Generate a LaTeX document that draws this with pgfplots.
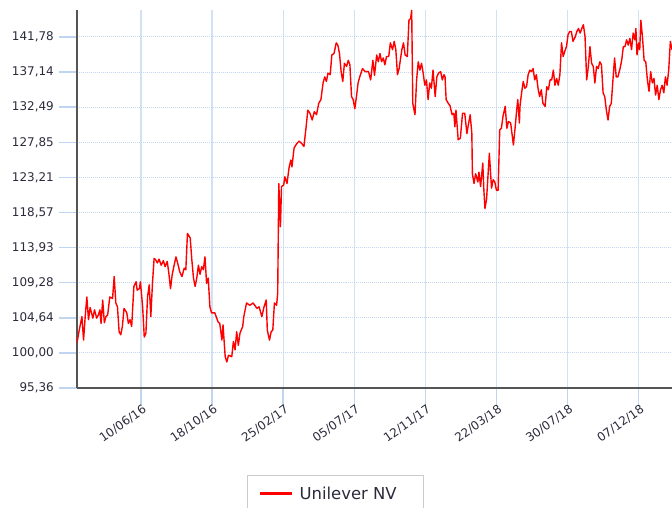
\documentclass[border=0pt]{standalone}
\usepackage{pgfplots}
\pgfplotsset{compat=1.18}
\usepackage{fontspec}
\setmainfont{DejaVu Sans}
\definecolor{gridblue}{HTML}{D2E2F5}
\definecolor{tickblue}{HTML}{BFD5F0}
\definecolor{griddot}{HTML}{C3D7F0}
\definecolor{axisgray}{HTML}{555555}
\definecolor{labelc}{HTML}{2B2B3C}
\definecolor{lineRed}{HTML}{FF0000}
\definecolor{legendframe}{HTML}{CCCCCC}
\pgfplotstableread{
d v
-117 101.3
-114 102.6
-108 104.8
-105 101.7
-102 104.8
-99 107.4
-96 104.4
-93 106.0
-88 104.6
-85 105.7
-81 104.6
-78 105.0
-75 105.7
-73 103.9
-70 107.0
-67 104.0
-64 104.8
-61 105.0
-57 107.4
-52 107.2
-49 110.1
-46 106.6
-43 106.1
-40 102.8
-37 102.4
-34 103.5
-31 105.9
-26 105.3
-23 103.9
-20 104.4
-17 103.5
-13 108.8
-9 109.4
-7 108.3
-3 108.5
-1 109.4
3 106.1
6 102.1
9 102.6
12 107.4
15 109.0
18 104.8
21 109.2
24 112.5
27 112.3
30 111.9
33 112.4
37 111.6
41 112.2
44 111.4
48 112.1
51 110.5
54 108.5
57 110.3
60 111.4
64 112.7
67 111.9
71 110.7
75 110.1
79 111.2
82 111.0
85 115.8
90 115.2
93 112.3
96 109.9
99 108.8
102 109.9
105 111.6
108 110.4
111 111.4
114 111.0
117 112.7
120 109.2
123 109.9
126 106.1
129 105.3
135 105.3
141 104.1
144 103.9
148 101.7
150 103.7
154 99.5
157 98.8
160 99.7
166 99.5
169 101.5
172 100.4
175 102.8
178 101.0
181 102.6
186 103.5
188 104.8
193 106.6
199 106.3
205 106.6
212 105.9
216 106.1
221 104.8
225 106.1
229 107.0
231 103.0
235 101.7
238 102.8
241 103.0
244 106.6
248 106.3
250 107.9
252 122.4
255 116.7
257 122.0
261 122.2
263 123.3
267 122.4
271 124.6
274 125.5
276 124.6
280 127.1
285 127.7
289 128.0
294 127.7
298 127.3
302 129.9
305 132.1
309 131.7
313 130.8
317 131.9
321 131.5
325 133.0
329 133.5
333 135.7
336 136.5
339 135.9
342 137.0
346 136.8
349 139.4
353 139.6
357 141.0
360 140.7
363 139.6
366 137.2
369 135.9
372 138.3
376 137.9
379 138.7
382 138.1
385 133.9
388 133.5
391 132.3
394 133.9
397 135.7
400 136.5
405 137.6
410 137.2
416 137.2
420 136.1
424 138.7
427 136.7
431 139.4
434 138.5
437 139.6
440 138.5
443 139.0
446 138.1
449 139.2
453 139.2
456 141.0
460 140.1
463 141.2
466 140.1
469 136.8
472 137.6
477 140.1
480 141.0
483 139.4
487 139.2
490 144.0
493 144.2
495 145.3
497 133.0
501 131.5
504 136.1
507 138.5
510 137.4
513 138.3
516 137.0
519 135.4
522 136.1
525 133.5
528 135.7
531 135.0
534 137.4
538 133.9
541 136.5
544 137.0
548 137.2
551 136.1
554 136.8
556 136.5
558 133.5
562 133.0
565 132.7
569 131.5
572 131.7
574 129.9
576 132.1
580 128.2
584 128.4
588 131.7
592 131.7
596 129.0
598 129.9
602 131.5
605 129.0
606 123.7
609 122.4
612 123.7
616 122.6
618 123.9
621 122.0
625 125.1
627 121.5
629 119.1
632 120.4
637 126.4
641 121.8
644 122.9
647 122.6
650 121.5
653 121.5
656 129.5
659 129.7
662 131.3
666 132.6
669 129.7
672 130.6
676 130.4
681 127.5
684 129.7
687 132.1
689 133.5
692 130.4
693 132.6
696 134.4
699 135.9
702 135.0
705 135.2
708 136.8
711 137.4
714 137.2
717 137.6
720 136.1
723 136.8
726 135.0
729 133.9
732 134.8
735 133.0
739 132.6
742 135.2
745 134.8
748 136.1
751 136.1
754 137.4
757 135.4
760 136.3
763 135.4
766 136.8
769 141.0
772 139.2
775 139.9
778 140.5
781 142.1
784 142.5
787 142.5
790 141.2
794 141.8
797 142.5
800 142.9
803 142.3
806 142.9
809 143.4
812 141.8
815 136.1
818 137.9
821 140.5
824 138.3
827 137.9
830 135.7
833 137.9
836 137.6
839 138.5
842 138.1
845 134.4
848 133.9
851 132.1
854 130.8
857 132.6
860 133.0
863 136.1
866 139.0
869 136.5
872 136.5
876 137.6
879 138.7
882 140.5
885 140.5
888 141.4
891 140.7
894 141.6
897 140.1
900 142.3
903 141.4
905 142.9
907 139.4
910 141.0
912 140.1
914 144.0
917 141.8
920 138.7
923 138.5
926 136.1
929 134.6
932 137.2
935 135.7
938 136.3
941 134.1
944 135.4
947 133.5
950 134.8
953 135.4
956 134.4
959 136.5
962 135.4
965 137.4
968 141.2
971 140.1
}\unilever
\begin{document}
\begin{tikzpicture}
\begin{axis}[
  at={(77bp,120bp)}, anchor=south west,
  scale only axis, width=595bp, height=378bp,
  xmin=-117, xmax=971, ymin=95.36, ymax=145.35,
  axis x line=bottom, axis y line=left,
  axis line style={-, color=axisgray, line width=1.3bp},
  tick align=outside,
  major tick length=18bp,
  xtick={0,130,260,390,520,650,780,910},
  xticklabels={10/06/16,18/10/16,25/02/17,05/07/17,12/11/17,22/03/18,30/07/18,07/12/18},
  ytick={95.36,100.002,104.644,109.286,113.928,118.57,123.212,127.854,132.496,137.138,141.78},
  yticklabels={{95,36},{100,00},{104,64},{109,28},{113,93},{118,57},{123,21},{127,85},{132,49},{137,14},{141,78}},
  xmajorgrids, ymajorgrids,
  x grid style={color=gridblue, line width=1.3bp},
  y grid style={color=griddot, line width=1bp, densely dotted},
  xtick style={color=tickblue, line width=1.5bp},
  ytick style={color=tickblue, line width=1.5bp},
  ticklabel style={font=\fontsize{12}{14}\selectfont, text=labelc},
  xticklabel style={rotate=35, anchor=north east, inner sep=1bp, xshift=3bp, yshift=2bp},
  yticklabel style={anchor=east, inner sep=3bp, xshift=-2bp},
  legend style={at={(axis description cs:0.2857,-0.2302)}, anchor=north west,
    draw=legendframe, line width=1.2bp, fill=white,
    font=\fontsize{16.5}{19}\selectfont, text=labelc,
    inner xsep=11bp, inner ysep=9bp},
  legend image code/.code={\draw[#1, line width=3bp] (0bp,0bp) -- (32bp,0bp);},
]
\addplot[color=lineRed, line width=1.4bp, line join=round] table[x=d, y=v] {\unilever};
\addlegendentry{\hspace*{4bp}Unilever NV\hspace*{14bp}}
\end{axis}
\pgfresetboundingbox
\useasboundingbox (0,0) rectangle (672bp,508bp);
\end{tikzpicture}
\end{document}
